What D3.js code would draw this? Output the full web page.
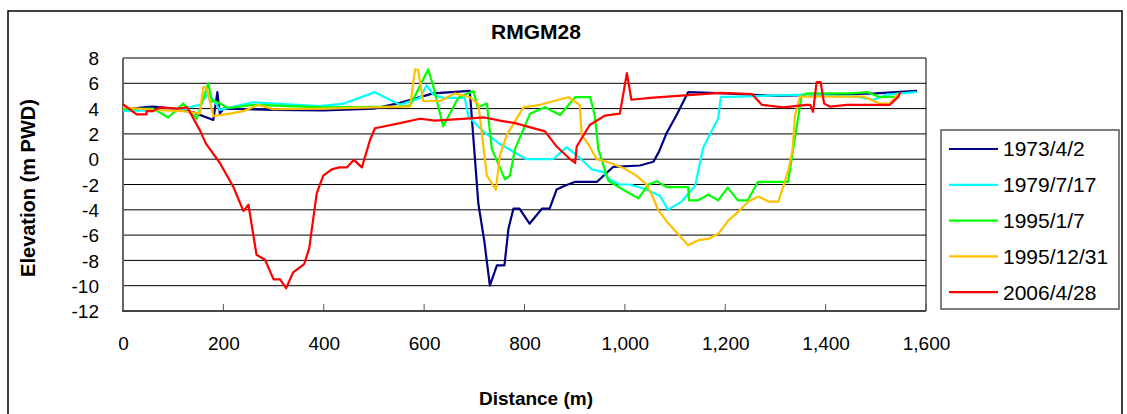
<!DOCTYPE html>
<html><head><meta charset="utf-8">
<script src="https://cdn.jsdelivr.net/npm/d3@7"></script>
<style>body{margin:0;background:#fff}text{font-family:"Liberation Sans",Arial,sans-serif;fill:#000}</style>
</head><body><svg id="c" width="1127" height="414"></svg>
<script>
const chartTitle = "RMGM28";
const xTitle = "Distance (m)";
const yTitle = "Elevation (m PWD)";
const xTicks = [0,200,400,600,800,1000,1200,1400,1600];
const yTicks = [8,6,4,2,0,-2,-4,-6,-8,-10,-12];
const seriesNames = ["1973/4/2","1979/7/17","1995/1/7","1995/12/31","2006/4/28"];
const seriesColors = ["#000080","#00FFFF","#00FF00","#FFC000","#FF0000"];

const dist1973 = [0,30,60,100,140,180,188,193,200,300,400,500,552,618,691,708,720,731,745,760,768,778,790,810,835,850,864,880,900,944,977,1030,1057,1068,1083,1103,1126,1200,1300,1400,1500,1582];
const elev1973 = [4.0,4.05,4.15,4.0,3.7,3.1,5.3,3.6,4.0,3.9,3.85,4.0,4.45,5.2,5.4,-3.5,-6.5,-10,-8.4,-8.4,-5.5,-3.9,-3.9,-5.1,-3.9,-3.9,-2.4,-2.1,-1.8,-1.8,-0.6,-0.5,-0.2,0.6,2.05,3.5,5.3,5.2,5.0,5.1,5.2,5.4];

const dist1979 = [0,60,120,153,170,183,193,259,392,440,502,552,592,605,618,638,681,688,718,751,804,857,884,910,934,956,970,990,1010,1043,1070,1086,1113,1140,1156,1186,1191,1355,1462,1495,1521,1581];
const elev1979 = [3.8,3.85,4.0,4.3,5.2,4.55,3.9,4.5,4.2,4.4,5.3,4.3,4.85,5.85,5.1,4.85,4.85,3.4,2.2,1.2,0.0,0.0,0.95,0.1,-0.8,-1.0,-1.6,-2.0,-2.0,-2.4,-2.9,-4.0,-3.35,-2.1,0.9,3.23,4.9,5.1,4.95,4.7,5.1,5.3];

const dist1995a = [0,60,90,120,147,170,177,183,210,259,400,552,572,608,618,638,668,698,707,725,735,761,771,781,811,841,871,901,931,940,947,967,996,1027,1047,1064,1083,1126,1128,1146,1166,1186,1205,1225,1245,1265,1325,1335,1352,1362,1395,1448,1484,1508,1545,1548];
const elev1995a = [3.95,4.0,3.3,4.4,3.2,6.0,4.55,4.6,4.05,4.3,4.1,4.15,4.25,7.1,5.8,2.6,4.85,5.4,4.1,4.4,0.8,-1.6,-1.3,0.8,3.6,4.1,3.5,4.9,4.9,3.45,0.8,-1.7,-2.4,-3.1,-2.0,-1.75,-2.2,-2.2,-3.25,-3.25,-2.8,-3.25,-2.25,-3.25,-3.25,-1.8,-1.8,0.7,5.0,5.2,5.2,5.2,5.3,4.9,4.95,5.3];

const dist1995b = [0,60,120,153,160,167,180,213,240,270,299,400,552,572,582,588,598,632,661,691,708,725,743,751,765,798,831,887,910,914,927,944,964,997,1023,1043,1057,1066,1083,1126,1146,1166,1186,1206,1226,1246,1266,1286,1306,1326,1334,1339,1349,1475,1508,1528,1545];
const elev1995b = [4.1,3.9,3.8,3.6,5.7,5.6,3.4,3.6,3.8,4.3,3.95,4.0,4.15,4.15,7.1,7.05,4.6,4.6,5.2,4.9,4.35,-1.3,-2.4,0.3,1.95,4.1,4.3,4.9,4.3,1.9,1.2,0.0,-0.2,-0.7,-1.3,-2.0,-3.1,-4.0,-4.9,-6.8,-6.4,-6.3,-5.9,-4.85,-4.15,-3.35,-2.95,-3.35,-3.35,-0.85,0.73,3.45,4.95,4.95,4.4,4.4,5.2];

const dist2006 = [0,27,47,47,60,74,107,128,153,165,193,220,240,250,266,283,300,313,325,339,361,371,386,399,416,431,446,460,476,492,502,552,592,622,685,721,751,781,841,864,891,901,904,930,960,990,1004,1013,1050,1190,1253,1273,1316,1362,1369,1375,1382,1390,1397,1409,1442,1528,1545,1549];
const elev2006 = [4.35,3.55,3.55,3.8,3.8,4.1,4.0,4.1,2.3,1.25,-0.3,-2.2,-4.1,-3.6,-7.55,-7.95,-9.5,-9.5,-10.2,-8.95,-8.3,-7.05,-2.7,-1.3,-0.8,-0.65,-0.65,-0.05,-0.65,1.5,2.45,2.85,3.2,3.05,3.2,3.3,3.05,2.85,2.2,1.0,0.0,-0.3,1.0,2.7,3.45,3.6,6.8,4.7,4.85,5.25,5.15,4.3,4.1,4.3,4.3,3.75,6.1,6.1,4.4,4.15,4.3,4.3,4.95,5.3];

const seriesDist = [dist1973,dist1979,dist1995a,dist1995b,dist2006];
const seriesElev = [elev1973,elev1979,elev1995a,elev1995b,elev2006];

const svg = d3.select("#c");
const L=123, R=926, T=58, B=311;
const x = d3.scaleLinear().domain([0,1600]).range([L,R]);
const y = d3.scaleLinear().domain([-12,8]).range([B,T]);

// outer border
svg.append("rect").attr("x",8).attr("y",11).attr("width",1114).attr("height",410)
  .attr("fill","none").attr("stroke","#000").attr("stroke-width",1.5);

// gridlines
svg.append("g").selectAll("line").data(yTicks).join("line")
  .attr("x1",L).attr("x2",R).attr("y1",d=>y(d)).attr("y2",d=>y(d))
  .attr("stroke","#000").attr("stroke-width",1);
svg.append("line").attr("x1",R).attr("x2",R).attr("y1",T).attr("y2",B).attr("stroke","#000").attr("stroke-width",1);

// axes
const xAxis = d3.axisBottom(x).tickValues(xTicks).tickSize(0).tickFormat(d3.format(","));
const gx = svg.append("g").attr("transform",`translate(0,${B})`).call(xAxis);
gx.select(".domain").remove();
gx.selectAll("text").attr("dy",0).attr("y",39).style("font-size","19px");
svg.append("g").selectAll("line").data(xTicks).join("line")
  .attr("x1",d=>x(d)).attr("x2",d=>x(d)).attr("y1",B).attr("y2",B-7).attr("stroke","#555").attr("stroke-width",1);

const yAxis = d3.axisLeft(y).tickValues(yTicks).tickSize(0).tickFormat(d=>String(d));
const gy = svg.append("g").attr("transform",`translate(${L},0)`).call(yAxis);
gy.select(".domain").remove();
gy.selectAll("text").attr("x",-24).attr("dy","0.35em").style("font-size","19px");
svg.append("line").attr("x1",L).attr("x2",L).attr("y1",T).attr("y2",B+1).attr("stroke","#666").attr("stroke-width",2);
svg.append("line").attr("x1",L-1).attr("x2",R).attr("y1",B).attr("y2",B).attr("stroke","#444").attr("stroke-width",2);

// series
const line = d3.line().x(d=>x(d[0])).y(d=>y(d[1]));
seriesNames.forEach((n,i)=>{
  const pts = seriesDist[i].map((d,j)=>[d,seriesElev[i][j]]);
  svg.append("path").datum(pts).attr("d",line).attr("fill","none")
    .attr("stroke",seriesColors[i]).attr("stroke-width",2.2).attr("stroke-linejoin","round");
});

// titles
svg.append("text").attr("x",536).attr("y",39).attr("text-anchor","middle")
  .style("font-size","21px").style("font-weight","bold").text(chartTitle);
svg.append("text").attr("x",536).attr("y",405).attr("text-anchor","middle")
  .style("font-size","19px").style("font-weight","bold").text(xTitle);
svg.append("text").attr("transform","translate(35,188) rotate(-90)").attr("text-anchor","middle")
  .style("font-size","20px").style("font-weight","bold").text(yTitle);

// legend
svg.append("rect").attr("x",941).attr("y",130).attr("width",178).attr("height",179)
  .attr("fill","#fff").attr("stroke","#555").attr("stroke-width",1.5);
const lg = svg.append("g").selectAll("g").data(seriesNames).join("g")
  .attr("transform",(d,i)=>`translate(0,${149+i*35.8})`);
lg.append("line").attr("x1",949).attr("x2",998).attr("stroke",(d,i)=>seriesColors[i]).attr("stroke-width",2.2);
lg.append("text").attr("x",1003).attr("dy","0.35em").style("font-size","21px").text(d=>d);
</script></body></html>
